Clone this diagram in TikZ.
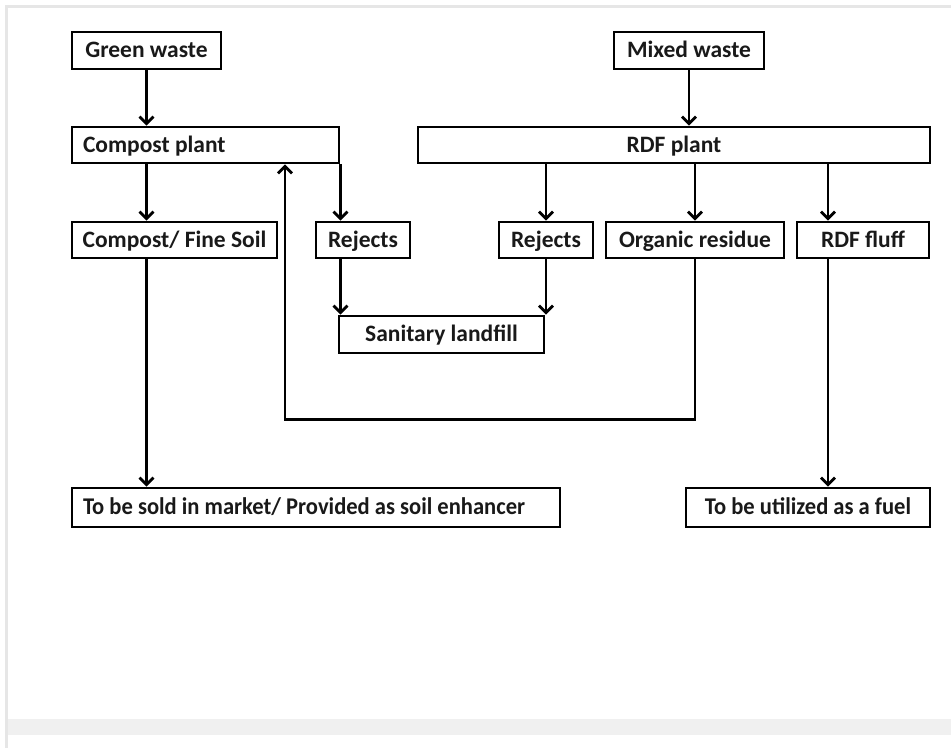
\documentclass[tikz,border=0pt]{standalone}
\usepackage{fontspec}
\setmainfont{Carlito}
\usetikzlibrary{arrows.meta}
\definecolor{framegray}{HTML}{E6E6E6}
\definecolor{bandgray}{HTML}{F0F0F0}
\tikzset{
  box/.style={draw=black, line width=2.8pt, fill=white, inner sep=0pt,
    font=\fontsize{23.5}{26}\selectfont\bfseries, text=black!90,
    text height=17pt, text depth=3pt},
  bigbox/.style={box, font=\fontsize{24}{27}\selectfont\bfseries},
  arr/.style={line width=2.8pt, -{Straight Barb[length=7pt,width=14pt]}}
}
\begin{document}
\begin{tikzpicture}[x=1pt,y=-1pt]
\useasboundingbox (0,0) rectangle (951,748);
\fill[white] (0,0) rectangle (951,748);
% frame
\fill[framegray] (5,5) rectangle (951,7.5);
\fill[framegray] (5,5) rectangle (7.5,748);
\fill[bandgray] (7.5,719) rectangle (951,735);
% nodes
\node[box, minimum width=149, minimum height=37] (gw) at (146.5,50.5) {Green waste};
\node[box, minimum width=150, minimum height=37] (mw) at (689,50.5) {Mixed waste};
\node[box, minimum width=267, minimum height=36] (cp) at (205.5,145) {\makebox[245pt][l]{Compost plant}};
\node[box, minimum width=512, minimum height=36] (rdf) at (674,145) {RDF plant};
\node[box, minimum width=205, minimum height=36] (cfs) at (174.5,240) {Compost/ Fine Soil};
\node[box, minimum width=94, minimum height=36] (rj1) at (363,240) {Rejects};
\node[box, minimum width=94, minimum height=36] (rj2) at (546,240) {Rejects};
\node[box, minimum width=178, minimum height=36] (org) at (695,240) {Organic residue};
\node[box, minimum width=132, minimum height=36] (fluff) at (863,240) {RDF fluff};
\node[box, minimum width=205, minimum height=37] (sl) at (441.5,334.5) {Sanitary landfill};
\node[bigbox, minimum width=488, minimum height=39] (sold) at (316,507.5) {\makebox[466pt][l]{\scalebox{0.94}[1]{To be sold in market/ Provided as soil enhancer}}};
\node[bigbox, minimum width=244, minimum height=39] (fuel) at (808,507.5) {\scalebox{0.94}[1]{To be utilized as a fuel}};
% helper coordinates
\coordinate (fluffx) at (828,0);
\coordinate (fb) at (285,419.5);
% connectors
\draw[arr] (gw.south) -- (cp.north -| gw.south);
\draw[arr] (mw.south) -- (rdf.north -| mw.south);
\draw[arr] (cp.south -| gw.south) -- (cfs.north -| gw.south);
\draw[arr] (cp.south east) -- (rj1.north -| cp.south east);
\draw[arr] (rdf.south -| rj2.north) -- (rj2.north);
\draw[arr] (rdf.south -| org.north) -- (org.north);
\draw[arr] (rdf.south -| fluffx) -- (fluff.north -| fluffx);
\draw[arr] (rj1.south -| cp.south east) -- (sl.north -| cp.south east);
\draw[arr] (rj2.south) -- (sl.north -| rj2.south);
\draw[arr] (cfs.south -| gw.south) -- (sold.north -| gw.south);
\draw[arr] (fluff.south -| fluffx) -- (fuel.north -| fluffx);
\draw[arr] (org.south) |- (fb) -- (cp.south -| fb);
\end{tikzpicture}
\end{document}
